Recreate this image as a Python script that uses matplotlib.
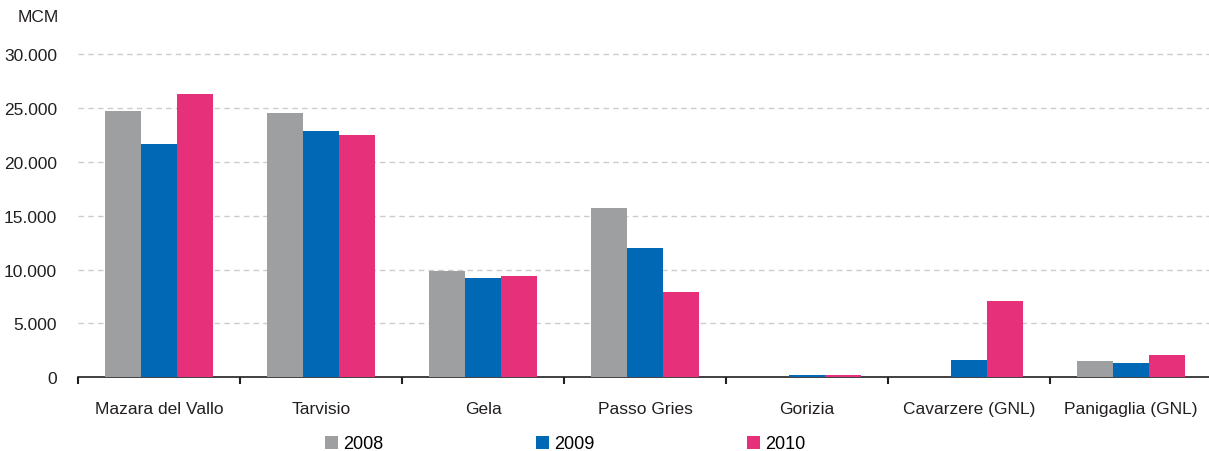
import numpy as np
import matplotlib.pyplot as plt

categories = ['Mazara del Vallo', 'Tarvisio', 'Gela', 'Passo Gries', 'Gorizia',
              'Cavarzere (GNL)', 'Panigaglia (GNL)']
years = ['2008', '2009', '2010']
v2008 = [24750, 24560, 9880, 15750, 0, 0, 1540]
v2009 = [21650, 22900, 9230, 12020, 200, 1580, 1360]
v2010 = [26300, 22450, 9420, 7930, 250, 7090, 2040]
yticks = [0, 5000, 10000, 15000, 20000, 25000, 30000]
ytick_labels = ['0', '5.000', '10.000', '15.000', '20.000', '25.000', '30.000']
colors = ['#9d9fa0', '#0068b4', '#e6317a']

plt.rcParams['font.family'] = ['Liberation Sans', 'DejaVu Sans']

fig = plt.figure(figsize=(12.09, 4.52), dpi=100)
W, H = 1209, 452
ax = fig.add_axes([78 / W, (H - 378.3) / H, 1134 / W, (378.3 - 55) / H])

x = np.arange(len(categories))
w = 0.222
for i, vals in enumerate([v2008, v2009, v2010]):
    ax.bar(x + (i - 1) * w, vals, w, color=colors[i], label=years[i], zorder=3)

for yv in yticks[1:]:
    ax.axhline(yv, color='#cccccc', lw=1, ls=(0, (4, 3)), zorder=1, clip_on=False)

ax.set_xlim(-0.5, 6.5)
ax.set_ylim(0, 30000)
for s in ['top', 'right', 'left']:
    ax.spines[s].set_visible(False)
ax.spines['bottom'].set_color('#231f20')
ax.spines['bottom'].set_linewidth(1.2)
ax.spines['bottom'].set_zorder(2)

ax.set_yticks(yticks)
ax.set_yticklabels(ytick_labels, fontsize=12.5, color='#231f20')
ax.tick_params(axis='y', length=0, pad=15)

ax.set_xticks(x)
ax.set_xticklabels(categories, fontsize=12.5, color='#231f20')
ax.tick_params(axis='x', which='major', length=0, pad=17)
ax.set_xticks(np.arange(-0.5, 7, 1), minor=True)
ax.tick_params(axis='x', which='minor', length=5, width=1.5, color='#231f20')

fig.text(18 / W, 1 - 17 / H, 'MCM', fontsize=12.5, color='#231f20', va='center')

handles, labels = ax.get_legend_handles_labels()
leg = fig.legend(handles, labels, loc='center', bbox_to_anchor=(565.5 / W, 1 - 445 / H),
                 ncol=3, frameon=False, handlelength=0.7, handleheight=0.7,
                 handletextpad=0.3, columnspacing=8.45,
                 prop={'family': 'Liberation Sans', 'size': 13})

fig.savefig('out.png', dpi=100)
